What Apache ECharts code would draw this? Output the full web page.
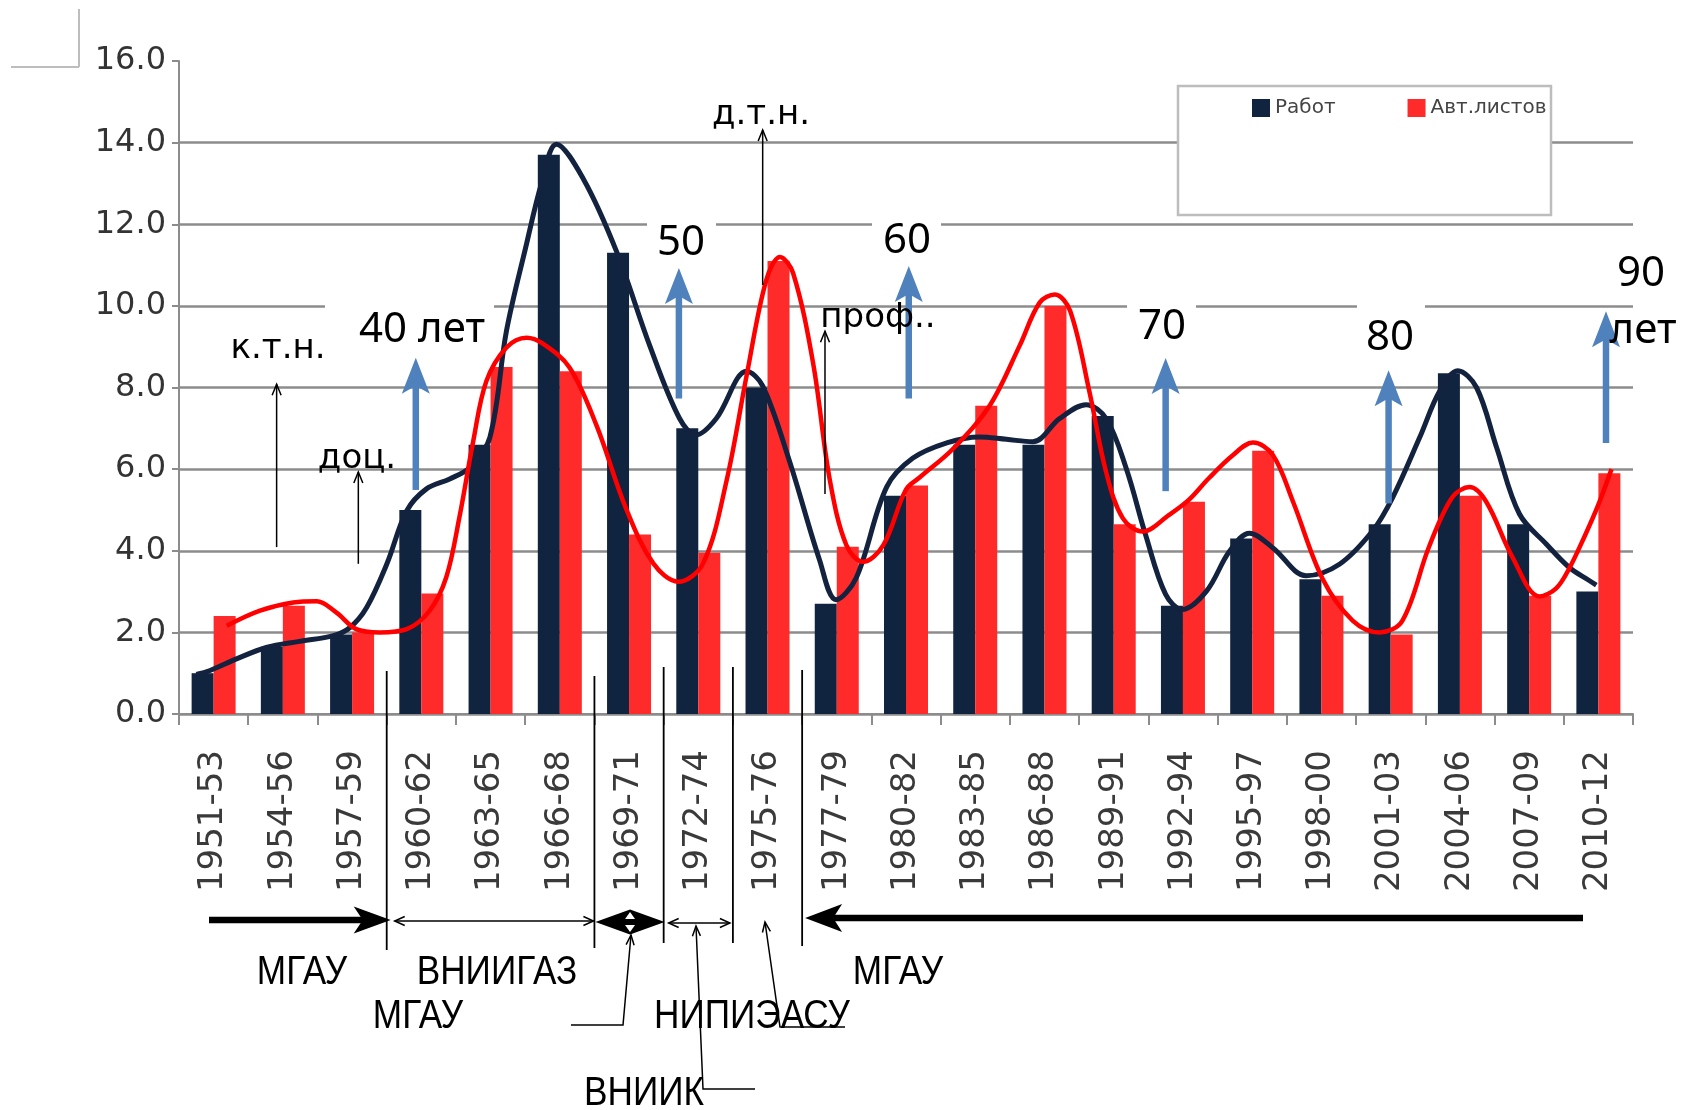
<!DOCTYPE html>
<html>
<head>
<meta charset="utf-8">
<script src="https://cdn.jsdelivr.net/npm/echarts@6/dist/echarts.min.js"></script>
<style>html,body{margin:0;padding:0;background:#fff}#c{width:1683px;height:1110px}</style>
</head>
<body>
<div id="c"></div>
<script>
// ---------------- data ----------------
const categories = ['1951-53','1954-56','1957-59','1960-62','1963-65','1966-68','1969-71','1972-74','1975-76','1977-79','1980-82','1983-85','1986-88','1989-91','1992-94','1995-97','1998-00','2001-03','2004-06','2007-09','2010-12'];
const works  = [1.0, 1.65, 1.95, 5.0, 6.6, 13.7, 11.3, 7.0, 8.0, 2.7, 5.35, 6.6, 6.6, 7.3, 2.65, 4.3, 3.3, 4.65, 8.35, 4.65, 3.0];
const sheets = [2.4, 2.65, 2.0, 2.95, 8.5, 8.4, 4.4, 3.95, 11.1, 4.1, 5.6, 7.55, 10.0, 4.65, 5.2, 6.45, 2.9, 1.95, 5.35, 2.9, 5.9];
// smooth curves: [category position, value]
const worksCurve = [[-0.25,0.97],[-0.06,1.06],[0.33,1.35],[0.76,1.63],[1.24,1.78],[1.73,1.92],[1.97,2.12],[2.21,2.61],[2.5,3.67],[2.79,4.98],[3.07,5.51],[3.41,5.76],[3.7,6.04],[3.99,6.78],[4.23,9.39],[4.51,11.45],[4.74,13.03],[4.95,13.96],[5.34,13.11],[5.82,11.33],[6.3,9.02],[6.73,7.24],[6.97,6.84],[7.26,7.24],[7.7,8.4],[7.93,8.04],[8.32,6.18],[8.75,3.78],[8.99,2.8],[9.28,3.33],[9.72,5.56],[10.1,6.27],[10.6,6.65],[11.06,6.79],[11.45,6.73],[11.83,6.67],[12.22,7.24],[12.6,7.58],[12.89,7.24],[13.18,6.02],[13.46,4.39],[13.75,2.93],[13.99,2.56],[14.34,3.01],[14.67,3.98],[14.96,4.43],[15.3,4.07],[15.78,3.39],[16.26,3.67],[16.74,4.49],[17.03,5.31],[17.42,6.78],[17.71,7.92],[17.97,8.41],[18.24,8.0],[18.53,6.53],[18.86,4.9],[19.25,4.16],[19.58,3.59],[19.85,3.29],[19.97,3.16]];
const sheetsCurve = [[0.19,2.16],[0.67,2.53],[1.15,2.73],[1.49,2.76],[1.77,2.49],[2.06,2.08],[2.4,2.0],[2.79,2.08],[3.12,2.53],[3.36,3.35],[3.55,4.82],[3.75,6.69],[3.94,8.16],[4.23,8.98],[4.52,9.22],[4.75,9.08],[5.14,8.49],[5.53,7.07],[5.96,5.02],[6.35,3.69],[6.71,3.24],[7.07,3.69],[7.41,5.73],[7.7,8.31],[7.98,10.62],[8.18,11.2],[8.37,10.8],[8.66,8.58],[8.9,5.73],[9.14,4.13],[9.38,3.73],[9.67,4.13],[10.0,5.5],[10.2,5.8],[10.68,6.5],[11.21,7.56],[11.64,9.02],[11.93,10.08],[12.15,10.28],[12.37,9.88],[12.65,7.89],[12.89,5.93],[13.13,4.8],[13.42,4.47],[13.8,4.88],[14.08,5.24],[14.37,5.77],[14.72,6.34],[15.01,6.65],[15.3,6.34],[15.59,5.2],[16.02,3.3],[16.45,2.29],[16.84,2.0],[17.17,2.29],[17.55,4.08],[17.89,5.31],[18.14,5.56],[18.38,5.2],[18.76,3.84],[19.15,2.88],[19.39,3.08],[19.58,3.57],[19.8,4.35],[20.0,5.13],[20.19,6.0]];
const legendNames = ['Работ','Авт.листов'];
// annotations
const milestoneLabels = ['40 лет','50','60','70','80','90'];
const milestoneAt   = [2.92, 6.72, 10.04, 13.75, 16.97, 20.11];
const milestoneFrom = [5.49, 7.73, 7.73, 5.46, 5.16, 6.64];
const milestoneTo   = [8.73, 10.93, 10.98, 8.72, 8.42, 9.87];
const degreeLabels = ['к.т.н.','доц.','д.т.н.','проф..'];
const degreeAt   = [0.91, 2.09, 7.93, 8.83];
const degreeFrom = [4.09, 3.68, 10.51, 5.39];
const degreeTo   = [8.08, 5.93, 14.31, 9.38];
const orgLabels = ['МГАУ','ВНИИГАЗ','МГАУ','НИПИЭАСУ','МГАУ','ВНИИК'];

// ---------------- chart ----------------
const chart = echarts.init(document.getElementById('c'));
const AX = '#8c8c8c';
chart.setOption({
  animation: false,
  backgroundColor: '#ffffff',
  grid: {left: 179, right: 50, top: 61, bottom: 396, containLabel: false, outerBoundsMode: 'none'},
  legend: {
    data: legendNames, left: 1247, top: 93, itemWidth: 18, itemHeight: 18, itemGap: 72, icon: 'rect',
    textStyle: {fontSize: 20, color: '#444', fontFamily: 'DejaVu Sans'}, z: 10
  },
  xAxis: [
    {type: 'category', data: categories, boundaryGap: true,
     axisLine: {onZero: false, lineStyle: {color: AX, width: 2}},
     axisTick: {show: true, length: 11, lineStyle: {color: AX, width: 2}},
     axisLabel: {rotate: 90, margin: 36, fontSize: 34, color: '#3a3a3a', fontFamily: 'DejaVu Sans', interval: 0},
     splitLine: {show: false}},
    {type: 'value', min: -0.5, max: 20.5, show: false}
  ],
  yAxis: {
    type: 'value', min: 0, max: 16, interval: 2,
    axisLine: {show: true, onZero: false, lineStyle: {color: AX, width: 2}},
    axisTick: {show: true, length: 7, lineStyle: {color: AX, width: 2}},
    axisLabel: {formatter: v => v.toFixed(1), fontSize: 32, color: '#333', margin: 13, fontFamily: 'DejaVu Sans'},
    splitLine: {show: true, showMaxLine: false, lineStyle: {color: AX, width: 2.5}}
  },
  series: [
    {name: legendNames[0], type: 'bar', data: works, barWidth: 22, barGap: '0%', itemStyle: {color: '#10233f'}},
    {name: legendNames[1], type: 'bar', data: sheets, barWidth: 22, barGap: '0%', itemStyle: {color: '#ff2b2b'}},
    {name: 'Работ-кривая', type: 'line', xAxisIndex: 1, data: worksCurve, smooth: 0.35, showSymbol: false,
     lineStyle: {color: '#13233f', width: 5}, z: 5},
    {name: 'Авт.листов-кривая', type: 'line', xAxisIndex: 1, data: sheetsCurve, smooth: 0.35, showSymbol: false,
     lineStyle: {color: '#ff0000', width: 4.5}, z: 6}
  ]
});

// ---------------- annotations ----------------
const P = (c, v) => chart.convertToPixel({xAxisIndex: 1, yAxisIndex: 0}, [c, v]);
const XB = k => chart.convertToPixel({xAxisIndex: 1}, k - 0.5);
const g = [];
function line(x1, y1, x2, y2, w, color, z) {
  g.push({type: 'line', silent: true, z: z || 20, shape: {x1, y1, x2, y2}, style: {stroke: color || '#000', lineWidth: w || 1.5}});
}
function polyline(pts, w, color, z) {
  g.push({type: 'polyline', silent: true, z: z || 20, shape: {points: pts}, style: {stroke: color || '#000', lineWidth: w || 1.5, fill: null}});
}
function polygon(pts, fill, z) {
  g.push({type: 'polygon', silent: true, z: z || 20, shape: {points: pts}, style: {fill: fill}});
}
function rect(x, y, w, h, fill, stroke, lw, z) {
  g.push({type: 'rect', silent: true, z: z || 1, shape: {x, y, width: w, height: h},
          style: {fill: fill, stroke: stroke || null, lineWidth: lw || 0}});
}
function text(t, x, y, font, sx, z) {
  g.push({type: 'text', silent: true, z: z || 30, x: x, y: y, scaleX: sx || 1,
          style: {text: t, x: 0, y: 0, font: font, fill: '#000', align: 'center', verticalAlign: 'middle',
                  textAlign: 'center', textVerticalAlign: 'middle'}});
}
function unit(tx, ty, fx, fy) { const dx = tx - fx, dy = ty - fy, L = Math.hypot(dx, dy); return [dx / L, dy / L]; }
function headOpen(tx, ty, fx, fy, len, half, w) {
  const [ux, uy] = unit(tx, ty, fx, fy), px = -uy, py = ux, bx = tx - ux * len, by = ty - uy * len;
  polyline([[bx + px * half, by + py * half], [tx, ty], [bx - px * half, by - py * half]], w || 1.5, '#000');
}
function headSolid(tx, ty, fx, fy, len, half, notch, color, z) {
  const [ux, uy] = unit(tx, ty, fx, fy), px = -uy, py = ux, bx = tx - ux * len, by = ty - uy * len;
  polygon([[tx, ty], [bx + px * half, by + py * half], [tx - ux * (len - notch), ty - uy * (len - notch)], [bx - px * half, by - py * half]], color, z);
  return [tx - ux * (len - notch - 1), ty - uy * (len - notch - 1)];
}

// top-left corner mark
line(79, 9, 79, 67, 2, '#bdbdbd', 1);
line(11, 67, 79, 67, 2, '#bdbdbd', 1);

// legend frame
rect(1178, 86, 373, 129, '#ffffff', '#bdbdbd', 2.5, 1);

// white boxes behind milestone numbers
rect(325, 302, 169, 52, '#ffffff', null, 0, 1);
rect(647, 218, 69, 50, '#ffffff', null, 0, 1);
rect(872, 218, 69, 50, '#ffffff', null, 0, 1);
rect(1127, 300, 69, 52, '#ffffff', null, 0, 1);
rect(1357, 300, 68, 62, '#ffffff', null, 0, 1);

// blue milestone arrows
const BLUE = '#4f81bd';
milestoneAt.forEach((c, i) => {
  const p0 = P(c, milestoneFrom[i]), p1 = P(c, milestoneTo[i]);
  const end = headSolid(p1[0], p1[1], p0[0], p0[1], 36, 14, 8, BLUE, 25);
  line(p0[0], p0[1], end[0], end[1], 6.5, BLUE, 24);
});
const msPos = [[422, 330], [681, 243], [907, 241], [1162, 327], [1390, 338], [1641, 274]];
milestoneLabels.forEach((t, i) => text(t, msPos[i][0], msPos[i][1], '42px "Noto Sans"'));
text('лет', 1643, 331, '42px "Noto Sans"');

// thin black degree arrows
degreeAt.forEach((c, i) => {
  const p0 = P(c, degreeFrom[i]), p1 = P(c, degreeTo[i]);
  line(p0[0], p0[1], p1[0], p1[1], 1.5, '#000');
  headOpen(p1[0], p1[1], p0[0], p0[1], 11, 4.5, 1.5);
});
const dgPos = [[278, 349], [357, 459], [761, 115], [878, 318]];
degreeLabels.forEach((t, i) => text(t, dgPos[i][0], dgPos[i][1], '34px "DejaVu Sans"'));

// vertical separators between periods
[[3, 671, 950], [6, 676, 948], [7, 667, 943], [8, 667, 943], [9, 670, 946]].forEach(s => {
  const x = XB(s[0]); line(x, s[1], x, s[2], 1.8, '#000');
});

// period arrows under the axis
const b3 = XB(3), b6 = XB(6), b7 = XB(7), b8 = XB(8), b9 = XB(9);
{ const y = 920, tip = b3 + 4; const e = headSolid(tip, y, 209, y, 37, 13.5, 9, '#000'); line(209, y, e[0], y, 6.5, '#000'); }
{ const y = 921, xl = b3 + 8, xr = b6 - 1; line(xl, y, xr, y, 1.5); headOpen(xl, y, xr, y, 10, 4.5); headOpen(xr, y, xl, y, 10, 4.5); }
{ const y = 922, xl = b6 + 1, xr = b7 + 1, xm = (xl + xr) / 2;
  polygon([[xl, y], [xm, y - 12.5], [xr, y], [xm, y + 12.5]], '#000');
  polygon([[xm, y - 10], [xm - 5, y - 3], [xm + 5, y - 3]], '#fff', 21);
  polygon([[xm, y + 10], [xm - 5, y + 3], [xm + 5, y + 3]], '#fff', 21); }
{ const y = 923, xl = b7 + 5, xr = b8 - 3; line(xl, y, xr, y, 1.5); headOpen(xl, y, xr, y, 10, 4.5); headOpen(xr, y, xl, y, 10, 4.5); }
{ const y = 918, tip = b9 + 3; const e = headSolid(tip, y, 1583, y, 37, 14, 9, '#000'); line(e[0], y, 1583, y, 6.5, '#000'); }

// leader lines
[[[631, 935], [623, 1025], [571, 1025]],
 [[696, 926], [703, 1089], [755, 1089]],
 [[765, 922], [780, 1027], [845, 1027]]].forEach(pts => {
  polyline(pts, 1.5, '#000');
  headOpen(pts[0][0], pts[0][1], pts[1][0], pts[1][1], 10, 4);
});

// organisation labels
const orgPos = [[302, 973], [497, 973], [418, 1017], [752, 1017], [898, 973], [644, 1094]];
orgLabels.forEach((t, i) => text(t, orgPos[i][0], orgPos[i][1], '40px "Liberation Sans"', 0.88));

chart.setOption({graphic: {elements: g}});
</script>
</body>
</html>
